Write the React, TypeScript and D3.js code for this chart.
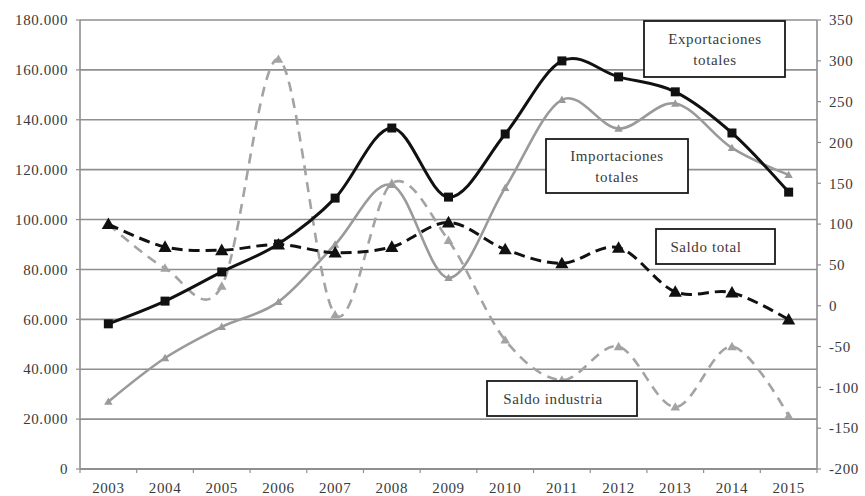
import React from "react";
import * as d3 from "d3";

const years = ["2003","2004","2005","2006","2007","2008","2009","2010","2011","2012","2013","2014","2015"];
const exportaciones = [58200, 67300, 79000, 90200, 108600, 136700, 109000, 134300, 163600, 157200, 151200, 134700, 111000];
const importaciones = [27000, 44500, 57000, 67000, 90000, 113900, 76600, 112700, 148000, 136500, 146500, 128700, 117900];
const saldoTotal = [100, 72, 68, 75, 65, 72, 102, 69, 52, 71, 17, 16, -17];
const saldoIndustria = [100, 46, 24, 302, -11, 150, 80, -42, -91, -50, -124, -50, -135];
const leftTicks = [0, 20000, 40000, 60000, 80000, 100000, 120000, 140000, 160000, 180000];
const rightTicks = [-200, -150, -100, -50, 0, 50, 100, 150, 200, 250, 300, 350];

const W = 865, H = 496;
const L = 80, R = 817, T = 20, B = 469;

const fmtL = (v: number) => (v === 0 ? "0" : d3.format(",.0f")(v).replace(/,/g, "."));

export default function App() {
  const x = d3.scaleBand<string>().domain(years).range([L, R]);
  const cx = (i: number) => (x(years[i]) as number) + x.bandwidth() / 2;
  const yL = d3.scaleLinear().domain([0, 180000]).range([B, T]);
  const yR = d3.scaleLinear().domain([-200, 350]).range([B, T]);

  const lineL = d3.line<number>().x((_, i) => cx(i)).y((d) => yL(d)).curve(d3.curveCardinal.tension(0));
  const lineR = d3.line<number>().x((_, i) => cx(i)).y((d) => yR(d)).curve(d3.curveCardinal.tension(0));

  const tri = (px: number, py: number, s: number) =>
    `M${px},${py - s * 0.6}L${px + s * 0.6},${py + s * 0.45}L${px - s * 0.6},${py + s * 0.45}Z`;

  const txtStyle: React.CSSProperties = {
    fontFamily: "'Liberation Serif', 'Times New Roman', 'DejaVu Serif', serif",
    fontSize: "15px",
    letterSpacing: "0.6px",
  };
  const txt = "#3a3a3a";
  const grid = "#8f8f8f";

  const boxes = [
    { x0: 644, y0: 21, x1: 785, y1: 77, lines: ["Exportaciones", "totales"], tx: 715 },
    { x0: 546, y0: 139, x1: 688, y1: 193, lines: ["Importaciones", "totales"], tx: 617 },
    { x0: 656, y0: 229, x1: 775, y1: 264, lines: ["Saldo total"], tx: 706 },
    { x0: 487, y0: 381, x1: 637, y1: 416, lines: ["Saldo industria"], tx: 553 },
  ];

  return (
    <svg width={W} height={H} style={{ position: "absolute", left: 0, top: 0, background: "#fff" }}>
      <rect x={0} y={0} width={W} height={H} fill="#fff" />
      {leftTicks.filter((t) => t > 0).map((t) => (
        <line key={"g" + t} x1={L} x2={R} y1={yL(t)} y2={yL(t)} stroke={grid} strokeWidth={1.6} />
      ))}
      <line x1={L} x2={L} y1={T} y2={B} stroke={grid} strokeWidth={1.6} />
      <line x1={R} x2={R} y1={T} y2={B} stroke={grid} strokeWidth={1.6} />
      <line x1={L} x2={R} y1={B} y2={B} stroke={grid} strokeWidth={1.8} />
      {leftTicks.map((t) => (
        <g key={"l" + t}>
          <line x1={L - 4} x2={L} y1={yL(t)} y2={yL(t)} stroke={grid} strokeWidth={1.2} />
          <text x={68} y={yL(t)} dy="0.35em" textAnchor="end" style={txtStyle} fill={txt}>{fmtL(t)}</text>
        </g>
      ))}
      {rightTicks.map((t) => (
        <g key={"r" + t}>
          <line x1={R} x2={R + 4} y1={yR(t)} y2={yR(t)} stroke={grid} strokeWidth={1.2} />
          <text x={829} y={yR(t)} dy="0.35em" textAnchor="start" style={txtStyle} fill={txt}>{t}</text>
        </g>
      ))}
      {d3.range(years.length + 1).map((i) => {
        const px = L + i * x.bandwidth();
        return <line key={"xt" + i} x1={px} x2={px} y1={B} y2={B + 4} stroke={grid} strokeWidth={1.2} />;
      })}
      {years.map((yv, i) => (
        <text key={"x" + yv} x={cx(i)} y={493} textAnchor="middle" style={txtStyle} fill={txt}>{yv}</text>
      ))}

      <path d={lineR(saldoIndustria) || ""} fill="none" stroke="#a3a3a3" strokeWidth={2.6} strokeDasharray="10 7" />
      <path d={lineL(importaciones) || ""} fill="none" stroke="#9a9a9a" strokeWidth={2.6} />
      <path d={lineR(saldoTotal) || ""} fill="none" stroke="#111" strokeWidth={3} strokeDasharray="11 6" />
      <path d={lineL(exportaciones) || ""} fill="none" stroke="#111" strokeWidth={3} />

      {saldoIndustria.map((d, i) => (
        <path key={"si" + i} d={tri(cx(i), yR(d), 8)} fill="#a3a3a3" />
      ))}
      {importaciones.map((d, i) => (
        <path key={"im" + i} d={tri(cx(i), yL(d), 7)} fill="#9a9a9a" />
      ))}
      {saldoTotal.map((d, i) => (
        <path key={"st" + i} d={tri(cx(i), yR(d), 11)} fill="#111" />
      ))}
      {exportaciones.map((d, i) => (
        <rect key={"ex" + i} x={cx(i) - 4.5} y={yL(d) - 4.5} width={9} height={9} fill="#111" />
      ))}

      {boxes.map((b, k) => {
        const midY = (b.y0 + b.y1) / 2;
        const lh = 21;
        const start = midY - ((b.lines.length - 1) * lh) / 2;
        return (
          <g key={"b" + k}>
            <rect x={b.x0} y={b.y0} width={b.x1 - b.x0} height={b.y1 - b.y0} fill="#fff" stroke="#1a1a1a" strokeWidth={1.8} />
            {b.lines.map((s, j) => (
              <text key={j} x={b.tx} y={start + j * lh} dy="0.35em" textAnchor="middle" style={txtStyle} fill={txt}>{s}</text>
            ))}
          </g>
        );
      })}
    </svg>
  );
}
